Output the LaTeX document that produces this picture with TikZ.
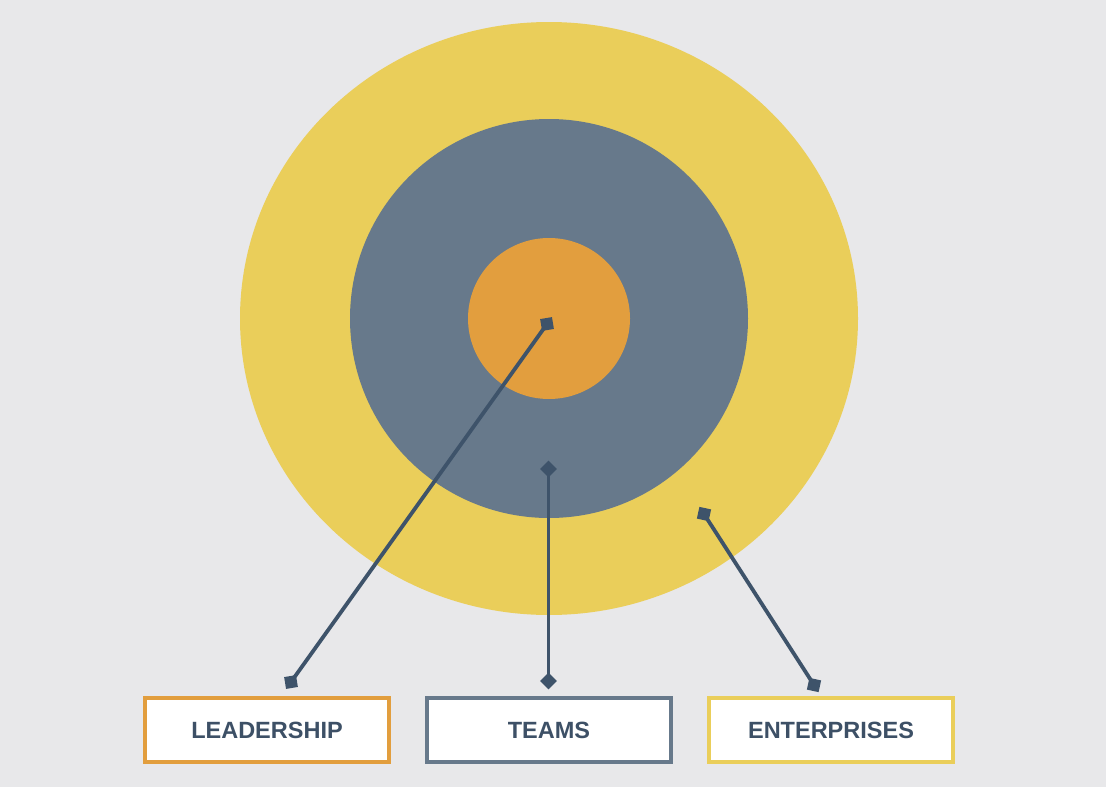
\documentclass[tikz,border=0pt]{standalone}
\usepackage{fontspec}
\setmainfont{Liberation Sans}
\definecolor{bg}{HTML}{E8E8EA}
\definecolor{ringY}{HTML}{EACE5A}
\definecolor{ringS}{HTML}{67798B}
\definecolor{ringO}{HTML}{E29E3E}
\definecolor{lineC}{HTML}{3E536A}
\definecolor{txtC}{HTML}{3D5066}
\begin{document}
\begin{tikzpicture}[x=1pt,y=-1pt,
  marker/.style={fill=lineC,inner sep=0pt,minimum size=12pt,draw=none},
  conn/.style={draw=lineC,line width=3.8pt},
  labelbox/.style={fill=white,line width=4pt,minimum width=244pt,minimum height=64pt,inner sep=0pt,
     text=txtC,font=\fontsize{23.5}{27}\selectfont\bfseries}]
\useasboundingbox (0,0) rectangle (1106,787);
\fill[bg] (0,0) rectangle (1106,787);
% rings
\fill[ringY] (549,318.5) ellipse [x radius=309, y radius=296.5];
\fill[ringS] (549,318.5) ellipse [x radius=199, y radius=199.5];
\fill[ringO] (549,318.5) ellipse [x radius=81, y radius=80.5];
% markers
\node[marker,rotate=9.4] (l1) at (547,324) {};
\node[marker,rotate=9.4] (l2) at (291,682) {};
\node[marker,rotate=45] (t1) at (548.5,469) {};
\node[marker,rotate=45] (t2) at (548.5,681) {};
\node[marker,rotate=-12.2] (e1) at (704,514) {};
\node[marker,rotate=-12.2] (e2) at (814,685) {};
% connectors
\draw[conn] (l1.center) -- (l2.center);
\draw[conn] (t1.center) -- (t2.center);
\draw[conn] (e1.center) -- (e2.center);
% boxes
\node[labelbox,draw=ringO] (lead) at (267,730) {\raisebox{-1pt}{LEADERSHIP}};
\node[labelbox,draw=ringS] (teams) at (549,730) {\raisebox{-1pt}{TEAMS}};
\node[labelbox,draw=ringY] (ent) at (831,730) {\raisebox{-1pt}{ENTERPRISES}};
\end{tikzpicture}
\end{document}
